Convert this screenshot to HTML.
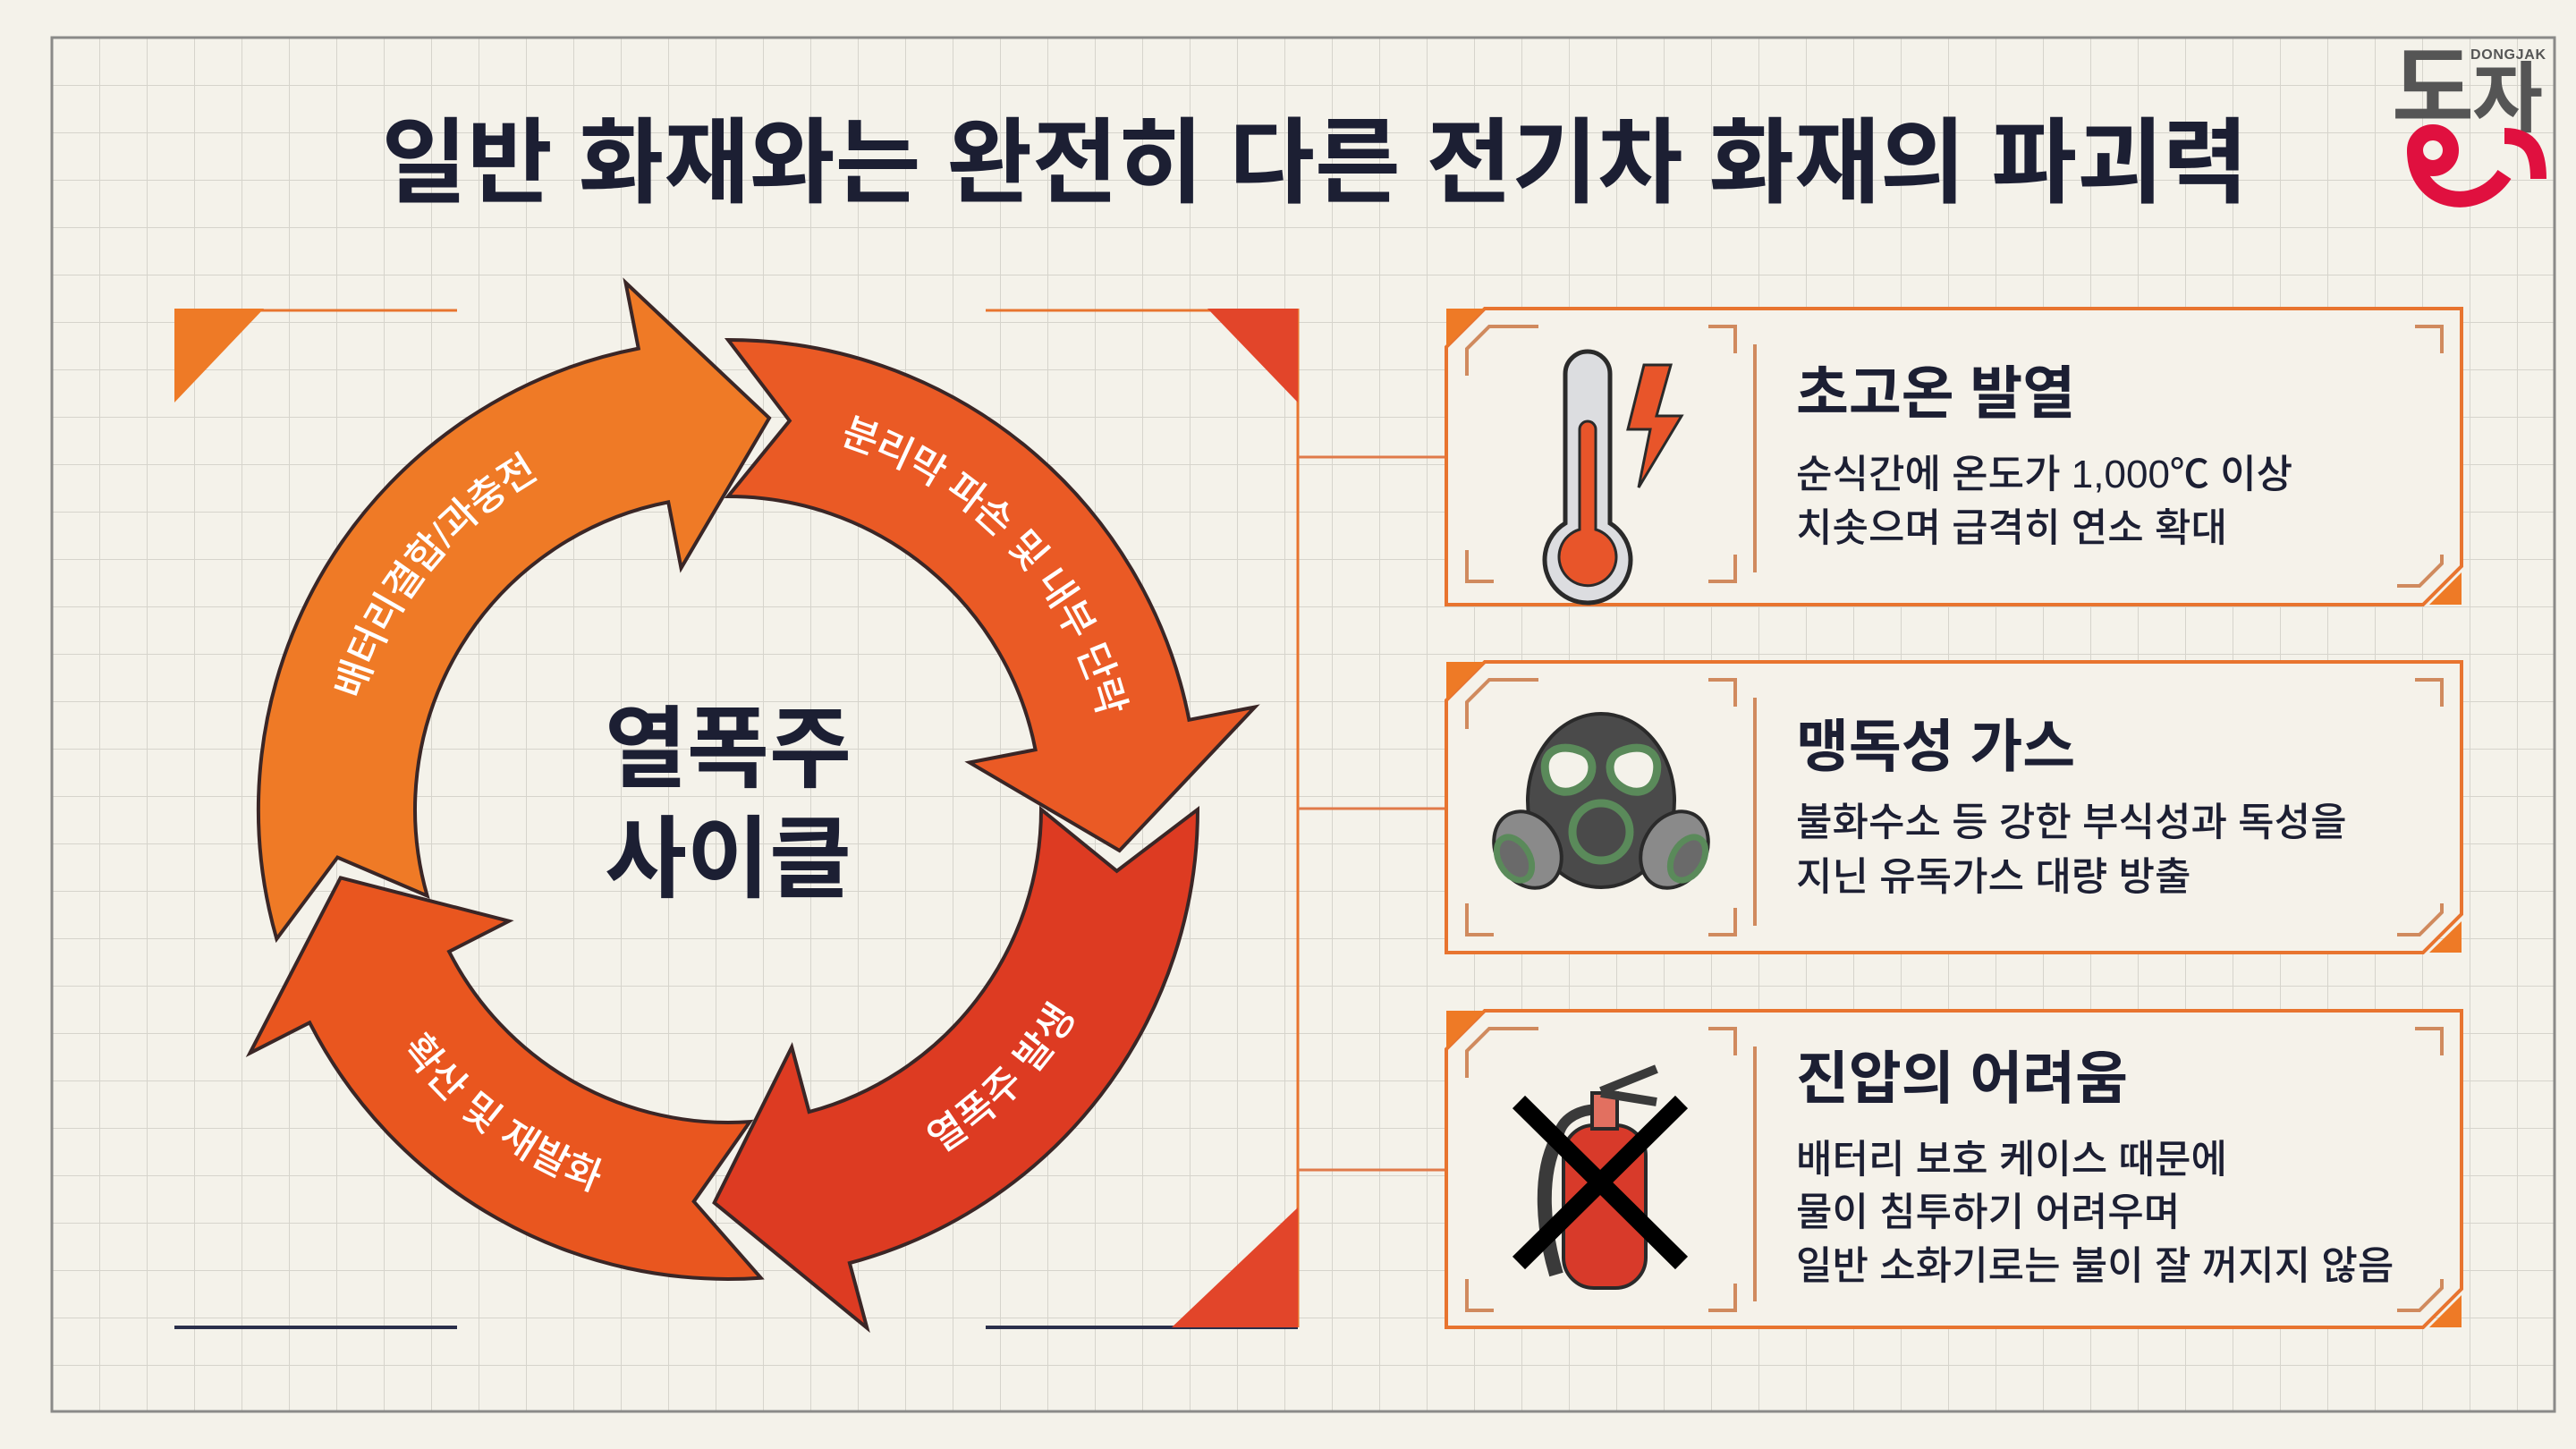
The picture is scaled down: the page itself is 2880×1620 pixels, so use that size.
<!DOCTYPE html>
<html><head><meta charset="utf-8">
<style>
html,body{margin:0;padding:0;background:#f4f2ea;}
svg{display:block;}
text{font-family:"Liberation Sans","Noto Sans CJK KR",sans-serif;}
</style></head>
<body>
<svg id="s" width="2880" height="1620" viewBox="0 0 2880 1620" xmlns="http://www.w3.org/2000/svg">
<defs>
<pattern id="g" x="58" y="42" width="53" height="53" patternUnits="userSpaceOnUse">
<path d="M0 0H53M0 0V53" stroke="#d6d4cc" stroke-width="2" fill="none"/>
</pattern>
<linearGradient id="lg" x1="0" y1="0" x2="0" y2="1"><stop offset="0" stop-color="#e8742f"/><stop offset="1" stop-color="#2a2f4a"/></linearGradient>
</defs>
<rect width="2880" height="1620" fill="#f4f2ea"/>
<rect x="58" y="42" width="2798" height="1536" fill="url(#g)" stroke="#8a8a88" stroke-width="3"/>

<text x="1470" y="218" font-size="104" font-weight="bold" fill="#1c1f33" text-anchor="middle">일반 화재와는 완전히 다른 전기차 화재의 파괴력</text>

<!-- logo -->
<text x="2674" y="134" font-size="100" font-weight="bold" fill="#555">도</text>
<text x="2764" y="140" font-size="86" font-weight="bold" fill="#555">자</text>
<text x="2762" y="66" font-size="16" font-weight="bold" fill="#555" textLength="84">DONGJAK</text>
<g fill="none" stroke="#e0103f" stroke-width="18" stroke-linecap="butt">
<circle cx="2720" cy="168" r="20"/>
<path d="M2700 168 C2700 230 2770 240 2800 195"/>
<path d="M2800 152 C2830 152 2838 170 2838 200"/>
</g>

<!-- left frame -->
<path d="M195 345V1484" stroke="url(#lg)" stroke-width="4"/>
<path d="M1451 345V1484" stroke="#e8742f" stroke-width="3"/>
<path d="M195 347H511M1102 347H1451" stroke="#e8742f" stroke-width="3"/>
<path d="M195 1484H511M1102 1484H1451" stroke="#2a2f4a" stroke-width="4"/>
<polygon points="195,345 295,345 195,450" fill="#ee7a26"/>
<polygon points="1350,345 1451,345 1451,450" fill="#e2452a"/>
<polygon points="1451,1350 1451,1484 1310,1484" fill="#e2452a"/>

<!-- connectors -->
<path d="M1451 511H1617M1451 904H1617M1451 1308H1617" stroke="#e07a4a" stroke-width="3"/>

<g id="arrows"></g>
<text x="814" y="872" font-size="100" font-weight="bold" fill="#1c1f33" text-anchor="middle">열폭주</text>
<text x="814" y="995" font-size="100" font-weight="bold" fill="#1c1f33" text-anchor="middle">사이클</text>

<!-- cards -->
<g fill="#f5f2ea" stroke="#e8742f" stroke-width="4">
<polygon points="1660,345 2752,345 2752,633 2709,676 1617,676 1617,388"/>
<polygon points="1660,740 2752,740 2752,1022 2709,1065 1617,1065 1617,783"/>
<polygon points="1660,1130 2752,1130 2752,1441 2709,1484 1617,1484 1617,1173"/>
</g>
<g fill="#ee7a26">
<polygon points="1617,345 1660,345 1617,388"/><polygon points="2752,640 2752,676 2716,676"/>
<polygon points="1617,740 1660,740 1617,783"/><polygon points="2752,1030 2752,1065 2716,1065"/>
<polygon points="1617,1130 1660,1130 1617,1173"/><polygon points="2752,1448 2752,1484 2716,1484"/>
</g>
<g fill="none" stroke="#d08a5e" stroke-width="4">
<path d="M1640 420V390L1665 365H1720M1910 365H1940V395M1640 615V650H1670M1910 650H1940V620M1962 385V640M2700 365H2730V395M2730 620V630L2705 655H2680"/>
<path d="M1640 815V785L1665 760H1720M1910 760H1940V790M1640 1010V1045H1670M1910 1045H1940V1015M1962 780V1035M2700 760H2730V790M2730 1010V1020L2705 1045H2680"/>
<path d="M1640 1205V1175L1665 1150H1720M1910 1150H1940V1180M1640 1430V1465H1670M1910 1465H1940V1435M1962 1170V1455M2700 1150H2730V1180M2730 1430V1440L2705 1465H2680"/>
</g>

<g fill="#1c1f33">
<text x="2008" y="462" font-size="64" font-weight="bold">초고온 발열</text>
<text x="2008" y="545" font-size="44" font-weight="500">순식간에 온도가 1,000℃ 이상</text>
<text x="2008" y="605" font-size="44" font-weight="500">치솟으며 급격히 연소 확대</text>
<text x="2008" y="857" font-size="64" font-weight="bold">맹독성 가스</text>
<text x="2008" y="934" font-size="44" font-weight="500">불화수소 등 강한 부식성과 독성을</text>
<text x="2008" y="995" font-size="44" font-weight="500">지닌 유독가스 대량 방출</text>
<text x="2008" y="1228" font-size="64" font-weight="bold">진압의 어려움</text>
<text x="2008" y="1311" font-size="44" font-weight="500">배터리 보호 케이스 때문에</text>
<text x="2008" y="1370" font-size="44" font-weight="500">물이 침투하기 어려우며</text>
<text x="2008" y="1430" font-size="44" font-weight="500">일반 소화기로는 불이 잘 꺼지지 않음</text>
</g>

<!-- thermometer -->
<g stroke="#2a2a2a" stroke-width="5">
<path d="M1750 585V418a25 25 0 0 1 50 0V585a48 48 0 1 1 -50 0Z" fill="#dcdde0"/>
<path d="M1766 592V480a9 9 0 0 1 18 0V592a32 32 0 1 1 -18 0Z" fill="#e8552a" stroke-width="3"/>
<path d="M1838 408L1868 408L1852 465L1880 465L1832 545L1845 480L1820 480Z" fill="#e8552a" stroke-width="3"/>
</g>
<!-- gas mask -->
<g stroke="#2a2a2a" stroke-width="4">
<ellipse cx="1790" cy="895" rx="82" ry="97" fill="#4a4a4a"/>
<path d="M1728 865c-5-25 15-35 40-25c15 6 15 25 5 35c-15 15-40 15-45-10Z" fill="#f4f2ea" stroke="#5a8a5a" stroke-width="9"/>
<path d="M1852 865c5-25-15-35-40-25c-15 6-15 25-5 35c15 15 40 15 45-10Z" fill="#f4f2ea" stroke="#5a8a5a" stroke-width="9"/>
<circle cx="1790" cy="930" r="32" fill="#4a4a4a" stroke="#5a8a5a" stroke-width="9"/>
<ellipse cx="1708" cy="950" rx="35" ry="45" fill="#8a8a8a" transform="rotate(-30 1708 950)"/>
<ellipse cx="1872" cy="950" rx="35" ry="45" fill="#8a8a8a" transform="rotate(30 1872 950)"/>
<ellipse cx="1693" cy="960" rx="17" ry="26" fill="#6a6a6a" stroke="#5a8a5a" stroke-width="7" transform="rotate(-30 1693 960)"/>
<ellipse cx="1887" cy="960" rx="17" ry="26" fill="#6a6a6a" stroke="#5a8a5a" stroke-width="7" transform="rotate(30 1887 960)"/>
</g>
<!-- extinguisher -->
<g stroke="#2a2a2a" stroke-width="4">
<path d="M1740 1275c-20 40-15 100 0 150" fill="none" stroke="#3a3a3a" stroke-width="16"/>
<path d="M1790 1240c-30 0-48 15-48 35" fill="none" stroke="#3a3a3a" stroke-width="12"/>
<rect x="1748" y="1258" width="92" height="182" rx="34" fill="#d83a2a"/>
<rect x="1780" y="1222" width="28" height="40" fill="#e27060"/>
<path d="M1790 1220L1852 1195M1790 1222L1852 1232" stroke="#3a3a3a" stroke-width="10"/>
</g>
<path d="M1698 1232L1880 1412M1880 1232L1698 1412" stroke="#000" stroke-width="20"/>
</svg>
<script>
(function(){
var C=[814,905],Ro=525,Ri=350,Rm=440,ext=75,H=17;
function P(r,a){a=a*Math.PI/180;return (C[0]+r*Math.cos(a)).toFixed(1)+','+(C[1]+r*Math.sin(a)).toFixed(1);}
var arr=[[164,276,'#ef7a26','배터리결합/과충전',0],[270,366,'#ea5a25','분리막 파손 및 내부 단락',0],[360,452,'#dd3b22','열폭주 발생',1],[446,530,'#e9561f','확산 및 재발화',1]];
var g=document.getElementById('arrows'),h='';
arr.forEach(function(a,i){
var a0=a[0],tip=a[1],a1=tip-H;
var d='M'+P(Ro,a0)+' A'+Ro+','+Ro+' 0 0 1 '+P(Ro,a1)+' L'+P(Ro+ext,a1)+' L'+P(Rm,tip)+' L'+P(Ri-ext,a1)+' L'+P(Ri,a1)+' A'+Ri+','+Ri+' 0 0 0 '+P(Ri,a0)+' L'+P(Rm,a0+9)+' Z';
h+='<path d="'+d+'" fill="'+a[2]+'" stroke="#3a2626" stroke-width="4" stroke-linejoin="miter"/>';
var s=a0+12,e=a1+2,tp;
if(a[4]){tp='M'+P(Rm,e)+' A'+Rm+','+Rm+' 0 0 0 '+P(Rm,s);}else{tp='M'+P(Rm,s)+' A'+Rm+','+Rm+' 0 0 1 '+P(Rm,e);}
h+='<path id="tp'+i+'" d="'+tp+'" fill="none"/>';
h+='<text font-size="44" font-weight="500" fill="#fff" dominant-baseline="middle" text-anchor="middle"><textPath href="#tp'+i+'" startOffset="50%">'+a[3]+'</textPath></text>';
});
g.innerHTML=h;
})();
</script>
</body></html>
